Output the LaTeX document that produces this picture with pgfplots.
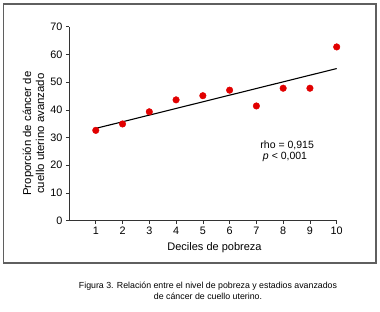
\documentclass[border=0pt]{standalone}
\usepackage{fontspec}
\setmainfont{Liberation Sans}
\usepackage{pgfplots}
\pgfplotsset{compat=1.18}
\definecolor{framegray}{RGB}{95,95,95}
\definecolor{dotred}{RGB}{225,0,0}
\begin{document}
\begin{tikzpicture}
\path (0pt,0pt) rectangle (380pt,312pt);
\draw[draw=framegray, line width=1.1pt] (3.5pt,49pt) -- (376pt,49pt) -- (376pt,308pt) -- (3.5pt,308pt) -- cycle;
\begin{axis}[
  at={(69pt,91.3pt)}, anchor=south west,
  scale only axis, width=267.7pt, height=194pt,
  xmin=0, xmax=10, ymin=0, ymax=70,
  axis lines=left, axis line style={-, line width=0.7pt, color=black!80},
  tick align=outside, major tick length=3pt,
  tick style={line width=0.6pt, color=black!80},
  xtick={1,2,...,10}, ytick={0,10,...,70},
  tick label style={font=\fontsize{10.8}{12}\selectfont},
  /pgf/number format/assume math mode=true,
  xlabel={Deciles de pobreza},
  xlabel style={at={(rel axis cs:0.5435,-0.1407)}, anchor=center, font=\fontsize{11}{13}\selectfont},
  ylabel={Proporción de cáncer de\\cuello uterino avanzado},
  ylabel style={at={(rel axis cs:-0.1326,0.449)}, anchor=center, align=center, font=\fontsize{11.4}{13}\selectfont},
  clip=false,
]
\addplot[black, line width=1.1pt] coordinates {(1,33.3) (10,54.9)};
\addplot[only marks, mark=*, mark size=3.3pt, color=dotred] coordinates {
 (1,32.6) (2,34.9) (3,39.3) (4,43.6) (5,45.1) (6,47.1) (7,41.4) (8,47.8) (9,47.8) (10,62.7)};
\node[font=\fontsize{10.5}{12}\selectfont] at (axis cs:8.15,27.1) {rho = 0,915};
\node[font=\fontsize{10.5}{12}\selectfont] at (axis cs:8.07,23.0) {\textit{p} < 0,001};
\end{axis}
\node[align=center, font=\fontsize{8.8}{11.5}\selectfont] at (208pt,21pt) {Figura 3. Relación entre el nivel de pobreza y estadios avanzados\\de cáncer de cuello uterino.};
\end{tikzpicture}
\end{document}
